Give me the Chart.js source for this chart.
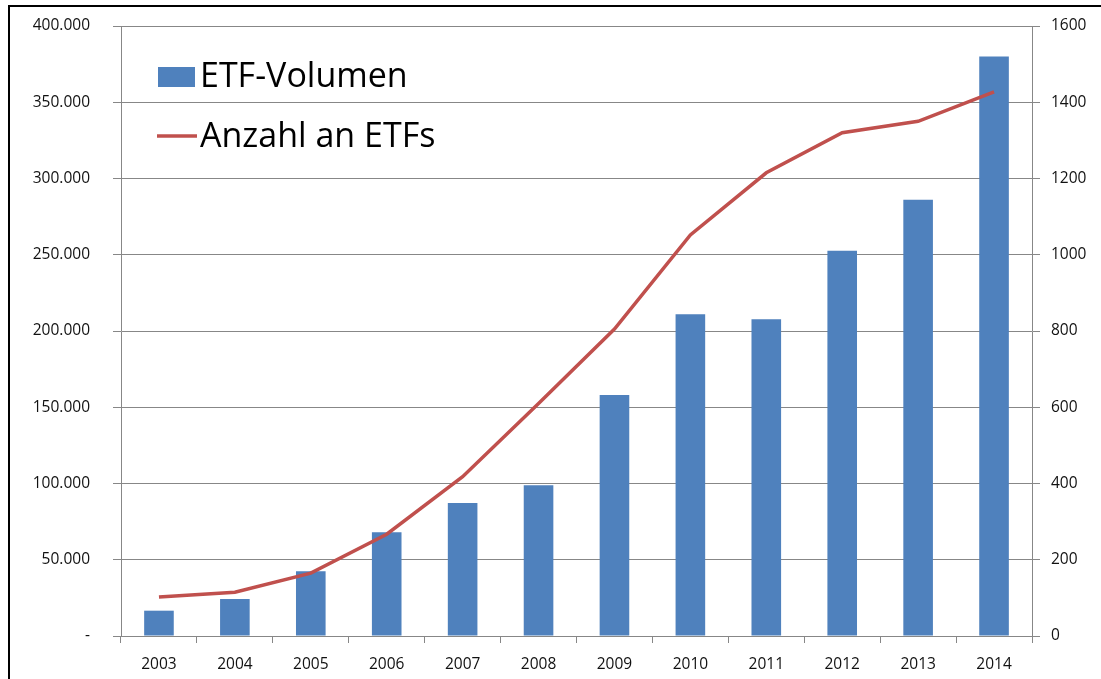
<!DOCTYPE html>
<html>
<head>
<meta charset="utf-8">
<script src="https://cdn.jsdelivr.net/npm/chart.js@4.4.1/dist/chart.umd.min.js"></script>
<style>
  html, body { margin: 0; padding: 0; background: #ffffff; }
  #wrap { position: relative; width: 1101px; height: 679px; overflow: hidden; }
  #frame { position: absolute; left: 8px; top: 5px; width: 1110px; height: 700px; border: 2px solid #000; box-sizing: border-box; pointer-events: none; }
  canvas { position: absolute; left: 0; top: 0; }
</style>
</head>
<body>
<div id="wrap">
  <canvas id="c" width="1101" height="679"></canvas>
  <div id="frame"></div>
</div>
<script>
// ---- data ----
const years = ['2003','2004','2005','2006','2007','2008','2009','2010','2011','2012','2013','2014'];
const etfVolumen = [16600, 24200, 42400, 68000, 87200, 98800, 158000, 211000, 207700, 252700, 286000, 380000];
const anzahlEtfs = [102, 115, 165, 267, 418, 610, 805, 1052, 1215, 1320, 1350, 1427];
const seriesLabels = ['ETF-Volumen', 'Anzahl an ETFs'];
const leftTicksMax = 400000, leftStep = 50000;
const rightTicksMax = 1600, rightStep = 200;

const BLUE = '#4F81BD';
const RED = '#C0504D';
const GRID = '#878787';
const TXT = '#111111';
const tickFont = { family: '"Open Sans", "DejaVu Sans", sans-serif', size: 15.5 };

const legendPlugin = {
  id: 'insideLegend',
  afterDraw(chart) {
    const ctx = chart.ctx;
    const ds = chart.data.datasets;
    ctx.save();
    ctx.font = '34px "Open Sans", sans-serif';
    ctx.textBaseline = 'alphabetic';
    ctx.textAlign = 'left';
    // bar entry
    ctx.fillStyle = ds[0].backgroundColor;
    ctx.fillRect(158, 67, 37, 20);
    ctx.fillStyle = '#000';
    ctx.fillText(ds[0].label, 200, 87);
    // line entry
    ctx.strokeStyle = ds[1].borderColor;
    ctx.lineWidth = 3.5;
    ctx.beginPath();
    ctx.moveTo(157, 136);
    ctx.lineTo(197, 136);
    ctx.stroke();
    ctx.fillText(ds[1].label, 200, 147);
    ctx.restore();
  }
};

new Chart(document.getElementById('c'), {
  type: 'bar',
  data: {
    labels: years,
    datasets: [
      {
        type: 'bar',
        label: seriesLabels[0],
        data: etfVolumen,
        backgroundColor: BLUE,
        borderWidth: 0,
        yAxisID: 'y',
        order: 2,
        categoryPercentage: 1.0,
        barPercentage: 0.39
      },
      {
        type: 'line',
        label: seriesLabels[1],
        data: anzahlEtfs,
        borderColor: RED,
        backgroundColor: RED,
        borderWidth: 3.5,
        pointRadius: 0,
        tension: 0,
        fill: false,
        yAxisID: 'y1',
        order: 1
      }
    ]
  },
  options: {
    responsive: false,
    animation: false,
    events: [],
    layout: { padding: { left: 10, right: 0, top: 26, bottom: 0 } },
    plugins: {
      legend: { display: false },
      tooltip: { enabled: false },
      title: { display: false }
    },
    scales: {
      x: {
        position: 'bottom',
        offset: true,
        grid: {
          offset: true,
          drawOnChartArea: false,
          drawTicks: true,
          tickLength: 7,
          color: GRID,
          lineWidth: 1
        },
        border: { display: true, color: GRID, width: 1 },
        ticks: { color: TXT, font: tickFont, padding: 12, maxRotation: 0, autoSkip: false },
        afterFit(scale) { scale.height = 43; }
      },
      y: {
        position: 'left',
        min: 0,
        max: leftTicksMax,
        grid: {
          drawOnChartArea: true,
          drawTicks: true,
          tickLength: 8,
          color: GRID,
          lineWidth: 1
        },
        border: { display: true, color: GRID, width: 1 },
        ticks: {
          stepSize: leftStep,
          color: TXT,
          font: tickFont,
          padding: 23,
          callback: (v) => v === 0 ? '-' : Number(v).toLocaleString('de-DE')
        },
        afterFit(scale) { scale.width = 111; scale.paddingTop = 0; scale.paddingBottom = 0; }
      },
      y1: {
        position: 'right',
        min: 0,
        max: rightTicksMax,
        grid: {
          drawOnChartArea: false,
          drawTicks: true,
          tickLength: 8,
          color: GRID,
          lineWidth: 1
        },
        border: { display: true, color: GRID, width: 1 },
        ticks: {
          stepSize: rightStep,
          color: TXT,
          font: tickFont,
          padding: 11,
          callback: (v) => String(v)
        },
        afterFit(scale) { scale.width = 69; scale.paddingTop = 0; scale.paddingBottom = 0; }
      }
    }
  },
  plugins: [legendPlugin]
});
</script>
</body>
</html>
